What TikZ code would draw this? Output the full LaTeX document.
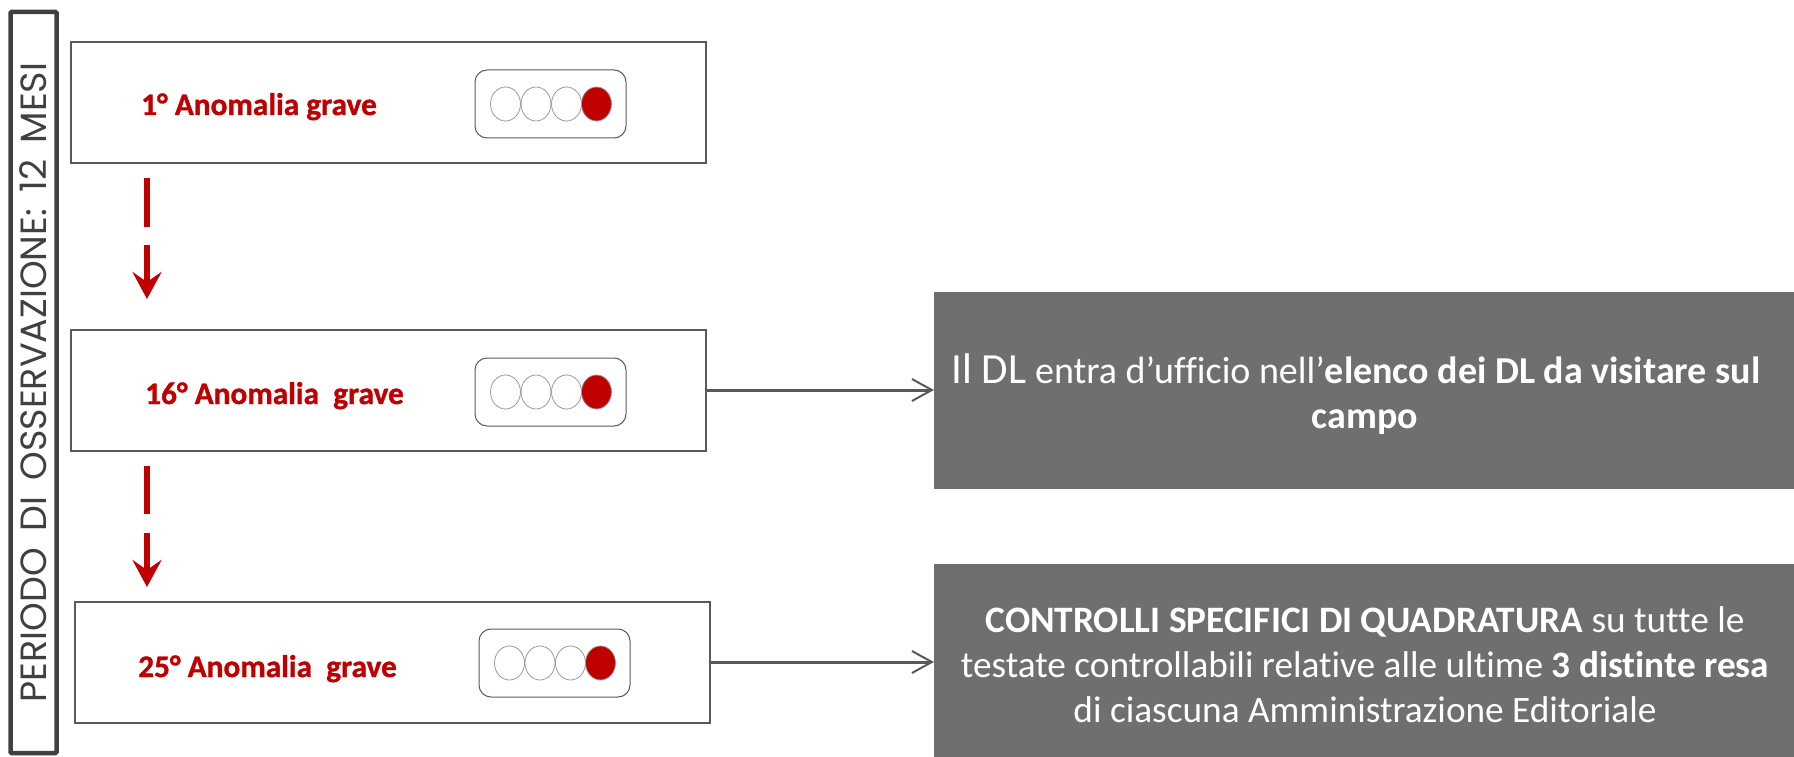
\documentclass[tikz,border=0pt]{standalone}
\usepackage{fontspec}
\usetikzlibrary{arrows.meta,shapes.geometric}
\setmainfont[Ligatures=NoCommon]{Carlito}
\newfontfamily\redfont[FakeBold=1.1,Ligatures=NoCommon]{Carlito Bold}
\newfontfamily\sidefont[WordSpace=1.7]{Poppins}
\definecolor{darkred}{HTML}{C00000}
\definecolor{panel}{HTML}{6F6F6F}
\definecolor{conn}{HTML}{595959}
\definecolor{bar}{HTML}{404040}
\tikzset{
  x=1pt,y=-1pt,
  evbox/.style={draw=conn,line width=1.5pt,minimum width=635pt,minimum height=121pt,inner sep=0pt,outer sep=0pt,anchor=north west},
  sigbox/.style={draw=conn,line width=1pt,rounded corners=12pt,minimum width=151pt,minimum height=68pt,inner sep=0pt,outer sep=0pt,anchor=north west},
  lampoff/.style={ellipse,draw=gray!80,line width=0.8pt,minimum width=30pt,minimum height=34pt,inner sep=0pt},
  lampon/.style={lampoff,fill=darkred},
  evlabel/.style={text=darkred,font=\redfont\fontsize{31.3}{36}\selectfont,anchor=base west,inner sep=0pt},
  panelbox/.style={fill=panel,minimum width=860pt,inner sep=0pt,outer sep=0pt,anchor=north west},
  paneltext/.style={text=white,align=center,inner sep=0pt,anchor=center},
  redline/.style={draw=darkred,line width=6pt},
  redarrow/.style={redline,-{Stealth[length=27pt,width=29pt,inset=10pt]}},
  grayarrow/.style={draw=conn,line width=3pt,-{Straight Barb[length=20pt,width=22pt,line width=2pt]}},
}
\newcommand{\signal}[3]{%
  \node[sigbox] (#1) at (#2,#3) {};
  \node[lampoff] (#1a) at (#2+30.5,#3+34) {};
  \node[lampoff] (#1b) at (#2+61,#3+34) {};
  \node[lampoff] (#1c) at (#2+91.5,#3+34) {};
  \node[lampon] (#1d) at (#2+121.5,#3+34) {};
}
\begin{document}
\begin{tikzpicture}
\useasboundingbox (0,0) rectangle (1794,757);
\node[draw=bar,line width=4.5pt,rounded corners=1pt,minimum width=46pt,minimum height=741pt,inner sep=0pt,outer sep=0pt,anchor=north west] (period) at (10.5,12) {};
\node[rotate=90,text=bar,font=\sidefont\fontsize{36.5}{40}\selectfont,inner sep=0pt] (periodtext) at (33,382.5) {PERIODO DI OSSERVAZIONE: 12 MESI};

\node[evbox] (e1) at (71,42) {};
\node[evbox] (e2) at (71,330) {};
\node[evbox] (e3) at (75,602) {};
\signal{s1}{475}{70}
\signal{s2}{475}{358}
\signal{s3}{479}{629}
\node[evlabel] (l1) at (141,115) {1° Anomalia grave};
\node[evlabel] (l2) at (145,404) {16° Anomalia\ \ grave};
\node[evlabel] (l3) at (138,677) {25° Anomalia\ \ grave};

\coordinate (a1s) at (147,178); \coordinate (a1m) at (147,227);
\coordinate (a1n) at (147,245); \coordinate (a1e) at (147,299);
\coordinate (a2s) at (147,466); \coordinate (a2m) at (147,514);
\coordinate (a2n) at (147,533); \coordinate (a2e) at (147,587);
\draw[redline] (a1s) -- (a1m);
\draw[redarrow] (a1n) -- (a1e);
\draw[redline] (a2s) -- (a2m);
\draw[redarrow] (a2n) -- (a2e);

\node[panelbox,minimum height=197pt] (p1) at (934,292) {};
\node[panelbox,minimum height=193pt] (p2) at (934,564) {};
\node[paneltext,font=\fontsize{38}{45}\selectfont] (t1) at (1356,394) {{\fontsize{43}{45}\selectfont Il DL} entra d’ufficio nell’\textbf{elenco dei DL da visitare sul}\\\hspace*{18pt}\textbf{campo}};
\node[paneltext,font=\fontsize{37.3}{45}\selectfont] (t2) at (1365,665) {\textbf{CONTROLLI SPECIFICI DI QUADRATURA} su tutte le\\testate controllabili relative alle ultime \textbf{3 distinte resa}\\di ciascuna Amministrazione Editoriale};

\draw[grayarrow] (e2.east |- 0,390) -- (p1.west |- 0,390);
\draw[grayarrow] (e3.east |- 0,662) -- (p2.west |- 0,662);
\end{tikzpicture}
\end{document}
